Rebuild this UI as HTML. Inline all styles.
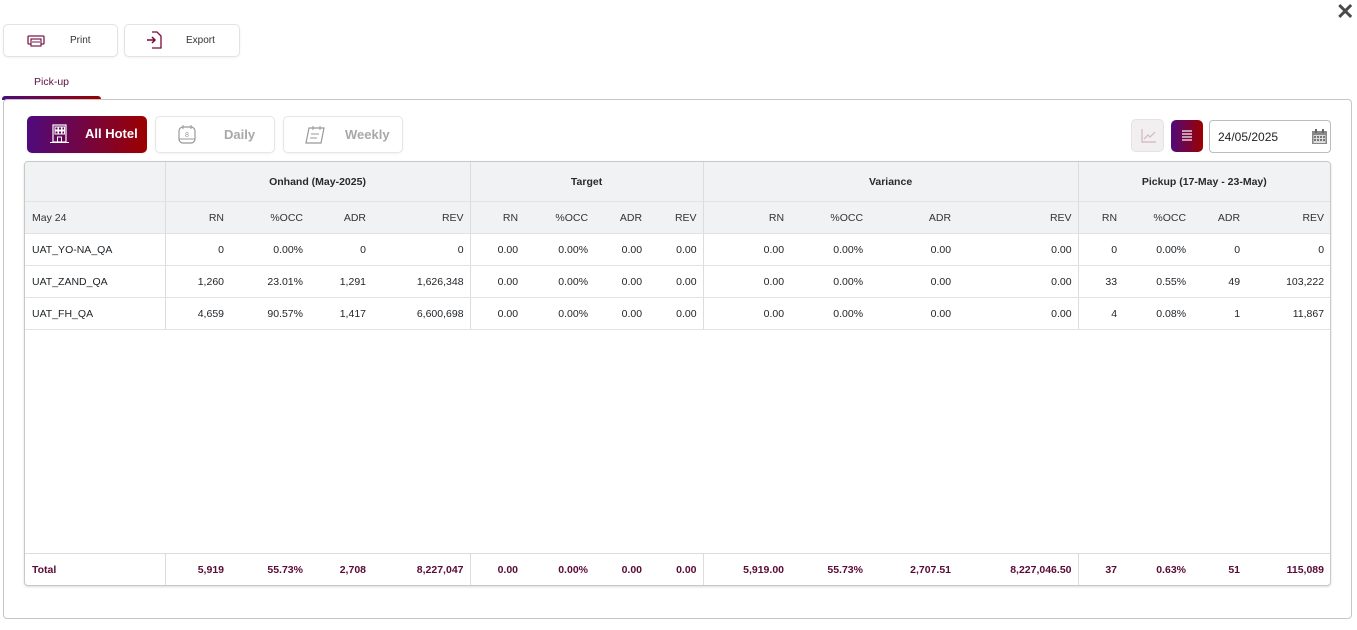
<!DOCTYPE html>
<html><head><meta charset="utf-8">
<style>
*{box-sizing:border-box;margin:0;padding:0}
body{width:1357px;height:630px;background:#fff;font-family:"Liberation Sans",sans-serif;position:relative;overflow:hidden;color:#212529}
.abs{position:absolute}
.btn{position:absolute;border:1px solid #e3e3e3;border-radius:5px;background:#fff;box-shadow:0 1px 2px rgba(0,0,0,0.06)}
.btn span{position:absolute;font-size:10px;color:#333;top:10px}
.seg{position:absolute;top:116px;height:37px;width:120px;border:1px solid #e6e6e6;border-radius:5px;background:#fff;box-shadow:0 1px 2px rgba(0,0,0,0.05)}
.seg span{position:absolute;top:10px;font-size:13px;font-weight:bold;color:#a8a8a8}
.grad{background:linear-gradient(to right,#4f0a7c,#9c0000)}
table{border-collapse:collapse;table-layout:fixed;font-size:10.5px}
td{white-space:nowrap;text-align:right;padding:0 6px 0 0;overflow:hidden}
.g{border-left:1px solid #dcdcdc}
tr.h1 td{height:39px;background:#f1f2f4;font-weight:bold;text-align:center;padding:2px 0 0 0;color:#2a2a2a;border-bottom:1px solid #e2e2e2}
tr.h2 td{height:32px;background:#f1f2f4;border-bottom:1px solid #e2e2e2;color:#333;padding-top:2px}
tr.d td{height:32px;border-bottom:1px solid #e2e2e2;padding-top:2px}
td.l{text-align:left;padding-left:7px}
tr.t td{height:32px;font-weight:bold;color:#5a0a36}
</style></head><body>

<!-- close -->
<div class="abs" style="left:1336px;top:1px;font-size:22px;font-weight:bold;color:#4a4a4a;line-height:22px">✕</div>

<!-- Print -->
<div class="btn" style="left:3px;top:24px;width:115px;height:33px">
  <svg class="abs" style="left:23px;top:8px" width="18" height="14" viewBox="0 0 18 14"><rect x="1" y="3" width="16" height="8" rx="1" fill="none" stroke="#7a1a4a" stroke-width="1.3"/><rect x="4" y="6" width="10" height="7" fill="#fff" stroke="#7a1a4a" stroke-width="1.2"/><line x1="5" y1="9" x2="13" y2="9" stroke="#7a1a4a"/></svg>
  <span style="left:66px">Print</span>
</div>
<!-- Export -->
<div class="btn" style="left:124px;top:24px;width:116px;height:33px">
  <svg class="abs" style="left:21px;top:6px" width="16" height="18" viewBox="0 0 16 18"><path d="M6 1h5l4 4v12H6" fill="none" stroke="#7a0a3a" stroke-width="1.3"/><path d="M1 9h8M6 6l3 3-3 3" fill="none" stroke="#7a0a3a" stroke-width="1.5"/></svg>
  <span style="left:61px">Export</span>
</div>

<!-- tab -->
<div class="abs" style="left:34px;top:76px;font-size:10.5px;color:#5a1040">Pick-up</div>
<div class="abs grad" style="left:2px;top:96px;width:99px;height:4px;border-radius:3px 3px 0 0"></div>

<!-- panel -->
<div class="abs" style="left:3px;top:99px;width:1349px;height:520px;border:1px solid #c6c6c6;border-radius:4px"></div>

<!-- segments -->
<div class="seg grad" style="left:27px;border:none">
  <svg class="abs" style="left:23px;top:8px" width="19" height="20" viewBox="0 0 19 20"><rect x="3" y="1" width="13" height="17" fill="none" stroke="#fff" stroke-width="1.2"/><rect x="5" y="3" width="3" height="3" fill="none" stroke="#fff"/><rect x="8.5" y="3" width="3" height="3" fill="none" stroke="#fff"/><rect x="12" y="3" width="2.5" height="3" fill="none" stroke="#fff"/><rect x="5" y="7" width="3" height="3" fill="none" stroke="#fff"/><rect x="8.5" y="7" width="3" height="3" fill="none" stroke="#fff"/><rect x="12" y="7" width="2.5" height="3" fill="none" stroke="#fff"/><rect x="7.5" y="13" width="4" height="5" fill="none" stroke="#fff"/><line x1="0" y1="18.5" x2="19" y2="18.5" stroke="#fff"/></svg>
  <span style="left:58px;color:#fff">All Hotel</span>
</div>
<div class="seg" style="left:155px">
  <svg class="abs" style="left:21px;top:7px" width="20" height="22" viewBox="0 0 20 22"><rect x="2" y="3" width="16" height="16" rx="4" fill="none" stroke="#999" stroke-width="1.2"/><line x1="6" y1="1" x2="6" y2="5" stroke="#999"/><line x1="14" y1="1" x2="14" y2="5" stroke="#999"/><line x1="2" y1="15" x2="18" y2="15" stroke="#999"/><text x="10" y="13" font-size="7" text-anchor="middle" fill="#999" font-family="Liberation Sans">8</text></svg>
  <span style="left:68px">Daily</span>
</div>
<div class="seg" style="left:283px">
  <svg class="abs" style="left:20px;top:7px" width="24" height="22" viewBox="0 0 24 22"><path d="M5 4h15l-3 15H2z" fill="none" stroke="#999" stroke-width="1.2"/><line x1="9" y1="2" x2="9" y2="6" stroke="#999"/><line x1="16" y1="2" x2="16" y2="6" stroke="#999"/><line x1="7" y1="10" x2="15" y2="10" stroke="#999"/><line x1="6" y1="14" x2="13" y2="14" stroke="#999"/></svg>
  <span style="left:61px">Weekly</span>
</div>

<!-- right controls -->
<div class="abs" style="left:1131px;top:119px;width:33px;height:33px;background:#f2eff1;border:1px solid #e4e2e3;border-radius:5px">
  <svg class="abs" style="left:9px;top:9px" width="15" height="14" viewBox="0 0 15 14"><path d="M1 0v13h14" fill="none" stroke="#d4b4c2" stroke-width="1.2"/><path d="M3 10l4-4 2 2 5-5" fill="none" stroke="#d4b4c2" stroke-width="1.2"/></svg>
</div>
<div class="abs grad" style="left:1171px;top:120px;width:32px;height:32px;border-radius:5px">
  <svg class="abs" style="left:11px;top:10px" width="10" height="11" viewBox="0 0 10 11"><g stroke="#fff" stroke-width="1.2"><line x1="0" y1="1" x2="10" y2="1"/><line x1="0" y1="4" x2="10" y2="4"/><line x1="0" y1="7" x2="10" y2="7"/><line x1="0" y1="10" x2="10" y2="10"/></g></svg>
</div>
<div class="abs" style="left:1209px;top:120px;width:122px;height:33px;border:1px solid #bdbdbd;border-radius:4px">
  <span class="abs" style="left:8px;top:9px;font-size:12px;color:#222">24/05/2025</span>
  <svg class="abs" style="left:102px;top:8px" width="15" height="15" viewBox="0 0 15 15"><rect x="0" y="2" width="15" height="13" fill="#888"/><rect x="1.5" y="6" width="12" height="8" fill="#ddd"/><g fill="#777"><rect x="2" y="7" width="2" height="2"/><rect x="5" y="7" width="2" height="2"/><rect x="8" y="7" width="2" height="2"/><rect x="11" y="7" width="2" height="2"/><rect x="2" y="10" width="2" height="2"/><rect x="5" y="10" width="2" height="2"/><rect x="8" y="10" width="2" height="2"/><rect x="11" y="10" width="2" height="2"/></g><rect x="3" y="0" width="2" height="4" fill="#666"/><rect x="10" y="0" width="2" height="4" fill="#666"/></svg>
</div>

<!-- table -->
<div class="abs" style="left:24px;top:161px;width:1307px;height:425px;border:1px solid #c8c8c8;border-radius:4px;overflow:hidden;box-shadow:0 1px 2px rgba(0,0,0,0.15)">
<table style="width:1305px">
<colgroup>
<col style="width:140px"><col style="width:65px"><col style="width:79px"><col style="width:63px"><col style="width:98px">
<col style="width:54px"><col style="width:70px"><col style="width:54px"><col style="width:55px">
<col style="width:87px"><col style="width:79px"><col style="width:88px"><col style="width:121px">
<col style="width:45px"><col style="width:69px"><col style="width:54px"><col style="width:84px">
</colgroup>
<tr class="h1"><td></td><td colspan="4" class="g">Onhand (May-2025)</td><td colspan="4" class="g">Target</td><td colspan="4" class="g">Variance</td><td colspan="4" class="g">Pickup (17-May - 23-May)</td></tr>
<tr class="h2"><td class="l">May 24</td><td class="g">RN</td><td>%OCC</td><td>ADR</td><td>REV</td><td class="g">RN</td><td>%OCC</td><td>ADR</td><td>REV</td><td class="g">RN</td><td>%OCC</td><td>ADR</td><td>REV</td><td class="g">RN</td><td>%OCC</td><td>ADR</td><td>REV</td></tr>
<tr class="d"><td class="l">UAT_YO-NA_QA</td><td class="g">0</td><td>0.00%</td><td>0</td><td>0</td><td class="g">0.00</td><td>0.00%</td><td>0.00</td><td>0.00</td><td class="g">0.00</td><td>0.00%</td><td>0.00</td><td>0.00</td><td class="g">0</td><td>0.00%</td><td>0</td><td>0</td></tr>
<tr class="d"><td class="l">UAT_ZAND_QA</td><td class="g">1,260</td><td>23.01%</td><td>1,291</td><td>1,626,348</td><td class="g">0.00</td><td>0.00%</td><td>0.00</td><td>0.00</td><td class="g">0.00</td><td>0.00%</td><td>0.00</td><td>0.00</td><td class="g">33</td><td>0.55%</td><td>49</td><td>103,222</td></tr>
<tr class="d"><td class="l">UAT_FH_QA</td><td class="g">4,659</td><td>90.57%</td><td>1,417</td><td>6,600,698</td><td class="g">0.00</td><td>0.00%</td><td>0.00</td><td>0.00</td><td class="g">0.00</td><td>0.00%</td><td>0.00</td><td>0.00</td><td class="g">4</td><td>0.08%</td><td>1</td><td>11,867</td></tr>
</table>
<table class="abs" style="width:1305px;left:0;top:391px;border-top:1px solid #dcdcdc">
<colgroup>
<col style="width:140px"><col style="width:65px"><col style="width:79px"><col style="width:63px"><col style="width:98px">
<col style="width:54px"><col style="width:70px"><col style="width:54px"><col style="width:55px">
<col style="width:87px"><col style="width:79px"><col style="width:88px"><col style="width:121px">
<col style="width:45px"><col style="width:69px"><col style="width:54px"><col style="width:84px">
</colgroup>
<tr class="t"><td class="l">Total</td><td class="g">5,919</td><td>55.73%</td><td>2,708</td><td>8,227,047</td><td class="g">0.00</td><td>0.00%</td><td>0.00</td><td>0.00</td><td class="g">5,919.00</td><td>55.73%</td><td>2,707.51</td><td>8,227,046.50</td><td class="g">37</td><td>0.63%</td><td>51</td><td>115,089</td></tr>
</table>
</div>

</body></html>
